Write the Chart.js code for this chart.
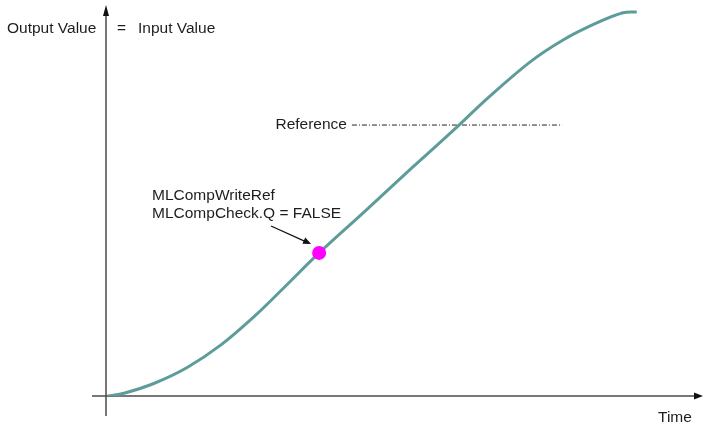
<!DOCTYPE html>
<html>
<head>
<meta charset="utf-8">
<script src="https://cdn.jsdelivr.net/npm/chart.js@4/dist/chart.umd.min.js"></script>
<style>
  html, body { margin: 0; padding: 0; background: #fff; }
  #wrap { width: 704px; height: 430px; }
</style>
</head>
<body>
<div id="wrap"><canvas id="chart" width="704" height="430"></canvas></div>
<script>
/* ================================================
   Output value vs. time – reference write check
================================================ */

// ramp curve (time in %, output value in %)
const curveTime  = [0.3, 3.0, 8.0, 13.6, 19.2, 24.8, 30.0, 35.7, 43.4, 51.0, 59.0, 63.8, 71.0, 76.5, 82.2, 86.6, 88.9];
const curveValue = [0.0, 0.7, 3.2, 7.3, 13.0, 20.3, 28.0, 36.6, 47.3, 58.0, 69.1, 76.0, 85.4, 91.0, 95.4, 98.0, 98.2];

// reference level and the span of its dash-dot line
const refLevel = 69.3;
const refSpan = [41.2, 76.4];

// moment MLCompWriteRef is issued
const writeTime = 35.7;
const writeValue = 36.6;

const yLabel = 'Output Value';
const yLabelEq = '=';
const yLabel2 = 'Input Value';
const xLabel = 'Time';
const refLabel = 'Reference';
const noteLines = ['MLCompWriteRef', 'MLCompCheck.Q = FALSE'];

const TXT = '#1e1e1e';
const AXIS = '#4a4a4a';
const FONT = '15.5px "Liberation Sans", Arial, sans-serif';

function arrowHead(ctx, x, y, angle, len, half) {
  ctx.save();
  ctx.translate(x, y);
  ctx.rotate(angle);
  ctx.beginPath();
  ctx.moveTo(0, 0);
  ctx.lineTo(-len, -half);
  ctx.lineTo(-len, half);
  ctx.closePath();
  ctx.fill();
  ctx.restore();
}

const axesPlugin = {
  id: 'axesAndNotes',
  beforeDatasetsDraw(chart) {
    const { ctx, scales: { x, y } } = chart;
    const x0 = x.getPixelForValue(0);
    const y0 = y.getPixelForValue(0);

    ctx.save();
    ctx.strokeStyle = AXIS;
    ctx.fillStyle = '#111';
    ctx.lineWidth = 1.5;

    // time axis
    ctx.beginPath();
    ctx.moveTo(x0 - 14, y0);
    ctx.lineTo(x.right - 6, y0);
    ctx.stroke();
    arrowHead(ctx, x.right, y0, 0, 9, 3.5);

    // value axis
    ctx.beginPath();
    ctx.moveTo(x0, y0 + 20);
    ctx.lineTo(x0, y.top + 8);
    ctx.stroke();
    arrowHead(ctx, x0, y.top, -Math.PI / 2, 11, 3);
    ctx.restore();
  },
  afterDraw(chart) {
    const { ctx, scales: { x, y } } = chart;
    ctx.save();
    ctx.font = FONT;
    ctx.fillStyle = TXT;
    ctx.textBaseline = 'middle';

    ctx.textAlign = 'left';
    ctx.fillText(yLabel, 7, 29);
    ctx.fillText(yLabelEq, 117, 29);
    ctx.fillText(yLabel2, 138, 29);
    ctx.fillText(xLabel, 658, 418);

    ctx.textAlign = 'right';
    ctx.fillText(refLabel, x.getPixelForValue(refSpan[0]) - 5, y.getPixelForValue(refLevel));

    ctx.textAlign = 'left';
    ctx.fillText(noteLines[0], 152, 196);
    ctx.fillText(noteLines[1], 152, 214);

    // pointer from the note to the write moment
    const px = x.getPixelForValue(writeTime);
    const py = y.getPixelForValue(writeValue);
    const sx = 271, sy = 226;
    const ex = px - 8, ey = py - 9;
    ctx.strokeStyle = '#111';
    ctx.fillStyle = '#111';
    ctx.lineWidth = 1.3;
    ctx.beginPath();
    ctx.moveTo(sx, sy);
    ctx.lineTo(ex - 5, ey - 2);
    ctx.stroke();
    arrowHead(ctx, ex, ey, Math.atan2(ey - sy, ex - sx), 8, 3.5);
    ctx.restore();
  }
};

new Chart(document.getElementById('chart'), {
  type: 'scatter',
  data: {
    datasets: [
      {
        data: curveTime.map((t, i) => ({ x: t, y: curveValue[i] })),
        showLine: true,
        borderColor: '#5e9c9a',
        borderWidth: 3,
        pointRadius: 0,
        tension: 0.35,
        order: 2
      },
      {
        data: refSpan.map(t => ({ x: t, y: refLevel })),
        showLine: true,
        borderColor: '#222',
        borderWidth: 1,
        borderDash: [5, 2, 1, 2],
        pointRadius: 0,
        order: 3
      },
      {
        data: [{ x: writeTime, y: writeValue }],
        pointRadius: 7,
        pointBackgroundColor: '#ff00ff',
        pointBorderColor: '#ff00ff',
        pointBorderWidth: 0,
        order: 1
      }
    ]
  },
  options: {
    responsive: false,
    animation: false,
    layout: { autoPadding: false, padding: { left: 106, right: 1, top: 5, bottom: 34 } },
    plugins: { legend: { display: false }, tooltip: { enabled: false } },
    scales: {
      x: { type: 'linear', min: 0, max: 100, display: false },
      y: { type: 'linear', min: 0, max: 100, display: false }
    }
  },
  plugins: [axesPlugin]
});
</script>
</body>
</html>
